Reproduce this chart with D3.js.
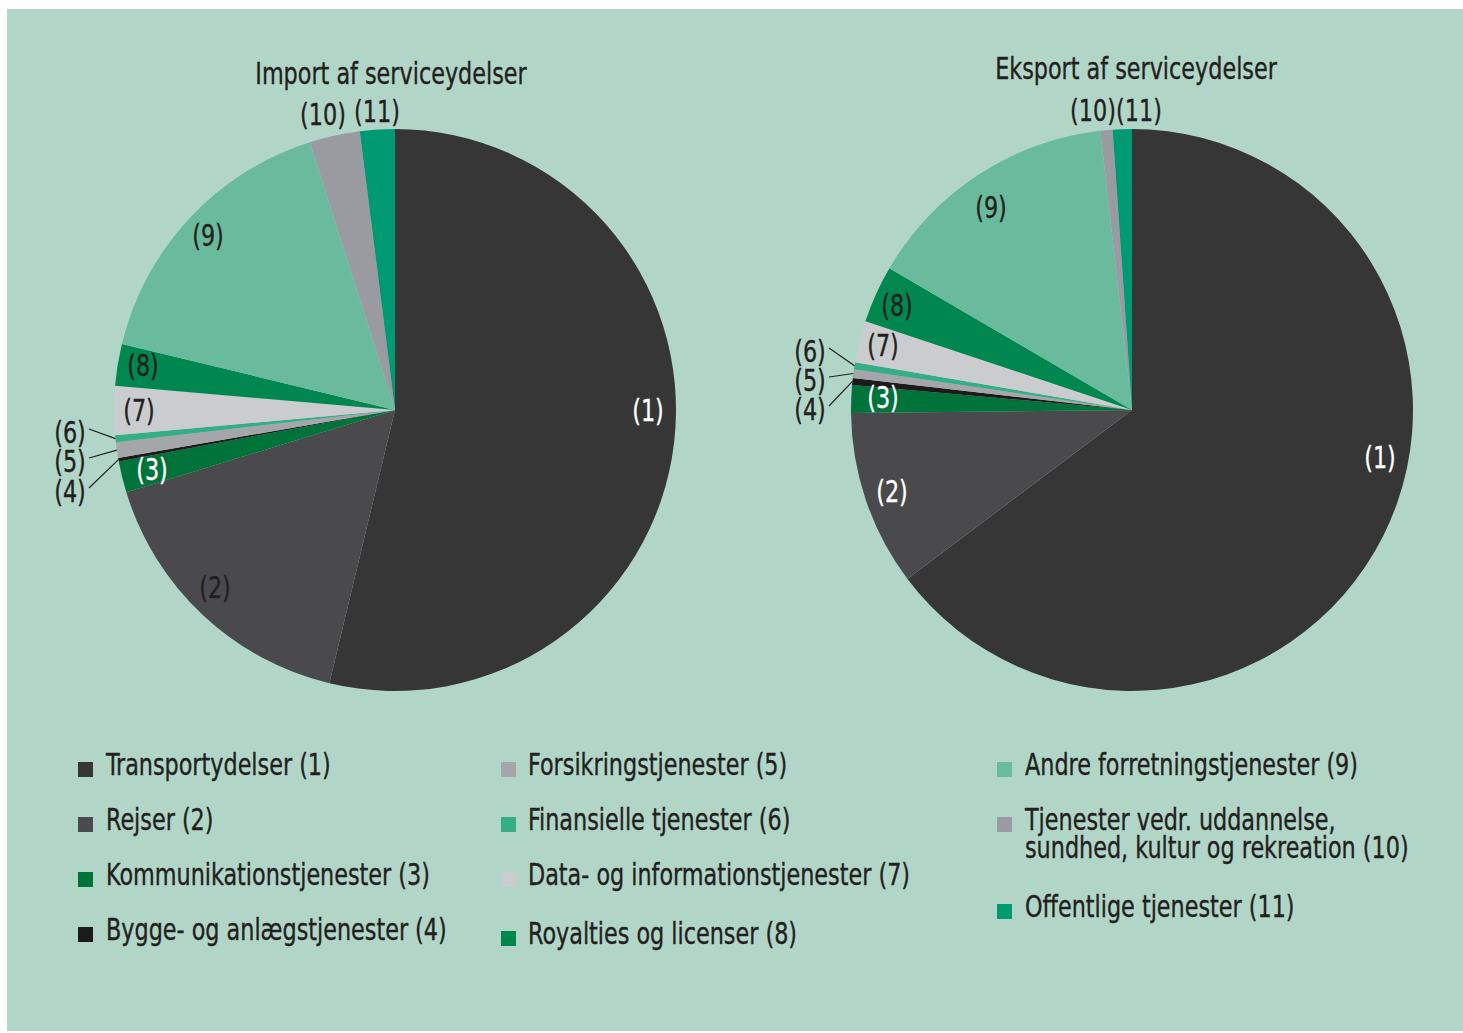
<!DOCTYPE html>
<html>
<head>
<meta charset="utf-8">
<script src="https://cdn.jsdelivr.net/npm/d3@7"></script>
<style>
  html, body { margin: 0; padding: 0; background: #ffffff; }
  svg { display: block; }
  text { font-family: "DejaVu Sans Condensed", "Liberation Sans Narrow", sans-serif; fill: #231f20; }
</style>
</head>
<body>
<svg id="chart" width="1463" height="1033"></svg>
<script>
// ---------- data ----------
const categoryIds = ["1", "2", "3", "4", "5", "6", "7", "8", "9", "10", "11"];
const categoryNames = [
  "Transportydelser (1)",
  "Rejser (2)",
  "Kommunikationstjenester (3)",
  "Bygge- og anlægstjenester (4)",
  "Forsikringstjenester (5)",
  "Finansielle tjenester (6)",
  "Data- og informationstjenester (7)",
  "Royalties og licenser (8)",
  "Andre forretningstjenester (9)",
  "Tjenester vedr. uddannelse,|sundhed, kultur og rekreation (10)",
  "Offentlige tjenester (11)"
];
const colors = ["#363636", "#4a4a4c", "#00733a", "#1d1a1b", "#a5a6a9", "#35ad85",
                "#cbccce", "#00874f", "#6abb9d", "#9a9ba0", "#009a72"];
const importValues = [53.7, 16.5, 1.8, 0.2, 0.9, 0.4, 2.8, 2.4, 16.3, 2.9, 2.0];
const exportValues = [64.8, 10.1, 1.6, 0.4, 0.5, 0.4, 2.4, 3.3, 14.8, 0.7, 1.1];
const titles = ["Import af serviceydelser", "Eksport af serviceydelser"];

// ---------- layout ----------
const FS = 31;          // font size
const SX = 0.8;         // horizontal condensing to mimic a condensed face
const svg = d3.select("#chart");
svg.append("rect").attr("x", 7).attr("y", 9).attr("width", 1456).attr("height", 1022).attr("fill", "#b1d6c8");

function addText(parent, x, y, str, anchor, fill, central) {
  const t = parent.append("text")
    .attr("transform", `translate(${x},${y}) scale(${SX},1)`)
    .attr("text-anchor", anchor || "start")
    .attr("font-size", FS)
    .style("fill", fill || "#231f20")
    .style("stroke", fill || "#231f20")
    .style("stroke-width", 0.35);
  if (central) t.attr("dominant-baseline", "central");
  if (str) t.text(str);
  return t;
}

const R = 281;
const pies = [
  { values: importValues, cx: 395, cy: 410, title: titles[0], titleX: 391, titleY: 84,
    labels: { "1": [253, 1, "#fff"], "2": [-180, 178, "#231f20"], "3": [-243, 60, "#fff"],
              "7": [-256, 1, "#231f20"], "8": [-252, -44, "#231f20"], "9": [-187, -174, "#231f20"],
              "10": [-72, -295, "#231f20"], "11": [-18, -298, "#231f20"] },
    leaders: { "6": [-325, 23], "5": [-325, 52], "4": [-325, 82] } },
  { values: exportValues, cx: 1132, cy: 410, title: titles[1], titleX: 1136, titleY: 79,
    labels: { "1": [248, 48, "#fff"], "2": [-240, 82, "#fff"], "3": [-249, -12, "#fff"],
              "7": [-249, -64, "#231f20"], "8": [-235, -104, "#231f20"], "9": [-141, -202, "#231f20"],
              "10": [-39, -299, "#231f20"], "11": [7, -299, "#231f20"] },
    leaders: { "6": [-322, -58], "5": [-322, -29], "4": [-322, 0] } }
];

const pieGen = d3.pie().sort(null).value(d => d.value).startAngle(0).endAngle(2 * Math.PI);
const arcGen = d3.arc().innerRadius(0).outerRadius(R);

pies.forEach(p => {
  const data = categoryIds.map((id, i) => ({ id, value: p.values[i], color: colors[i] }));
  const arcs = pieGen(data);
  const g = svg.append("g").attr("transform", `translate(${p.cx},${p.cy})`);
  g.selectAll("path").data(arcs).join("path")
    .attr("d", arcGen)
    .attr("fill", d => d.data.color);

  arcs.forEach(a => {
    const lab = p.labels[a.data.id];
    if (lab) {
      addText(g, lab[0], lab[1], `(${a.data.id})`, "middle", lab[2], true);
    }
    const ld = p.leaders[a.data.id];
    if (ld) {
      const mid = (a.startAngle + a.endAngle) / 2;
      const ex = R * Math.sin(mid), ey = -R * Math.cos(mid);
      g.append("line")
        .attr("x1", ld[0] + 19).attr("y1", ld[1] - 4)
        .attr("x2", ex).attr("y2", ey)
        .attr("stroke", "#231f20").attr("stroke-width", 1.2);
      addText(g, ld[0], ld[1], `(${a.data.id})`, "middle", "#231f20", true);
    }
  });

  addText(svg, p.titleX, p.titleY, p.title, "middle");
});

// ---------- legend ----------
const legendCols = [
  { sq: 78, tx: 106, items: [0, 1, 2, 3], ys: [775, 830, 885, 940] },
  { sq: 501, tx: 528, items: [4, 5, 6, 7], ys: [775, 830, 885, 944] },
  { sq: 997, tx: 1025, items: [8, 9, 10], ys: [775, 830, 917] }
];
legendCols.forEach(col => {
  col.items.forEach((idx, k) => {
    const y = col.ys[k];
    svg.append("rect")
      .attr("x", col.sq).attr("y", y - 13).attr("width", 15).attr("height", 15)
      .attr("fill", colors[idx]);
    const lines = categoryNames[idx].split("|");
    const t = addText(svg, col.tx, y, "", "start");
    lines.forEach((ln, j) => {
      t.append("tspan").attr("x", 0).attr("dy", j === 0 ? 0 : 28).text(ln);
    });
  });
});
</script>
</body>
</html>
